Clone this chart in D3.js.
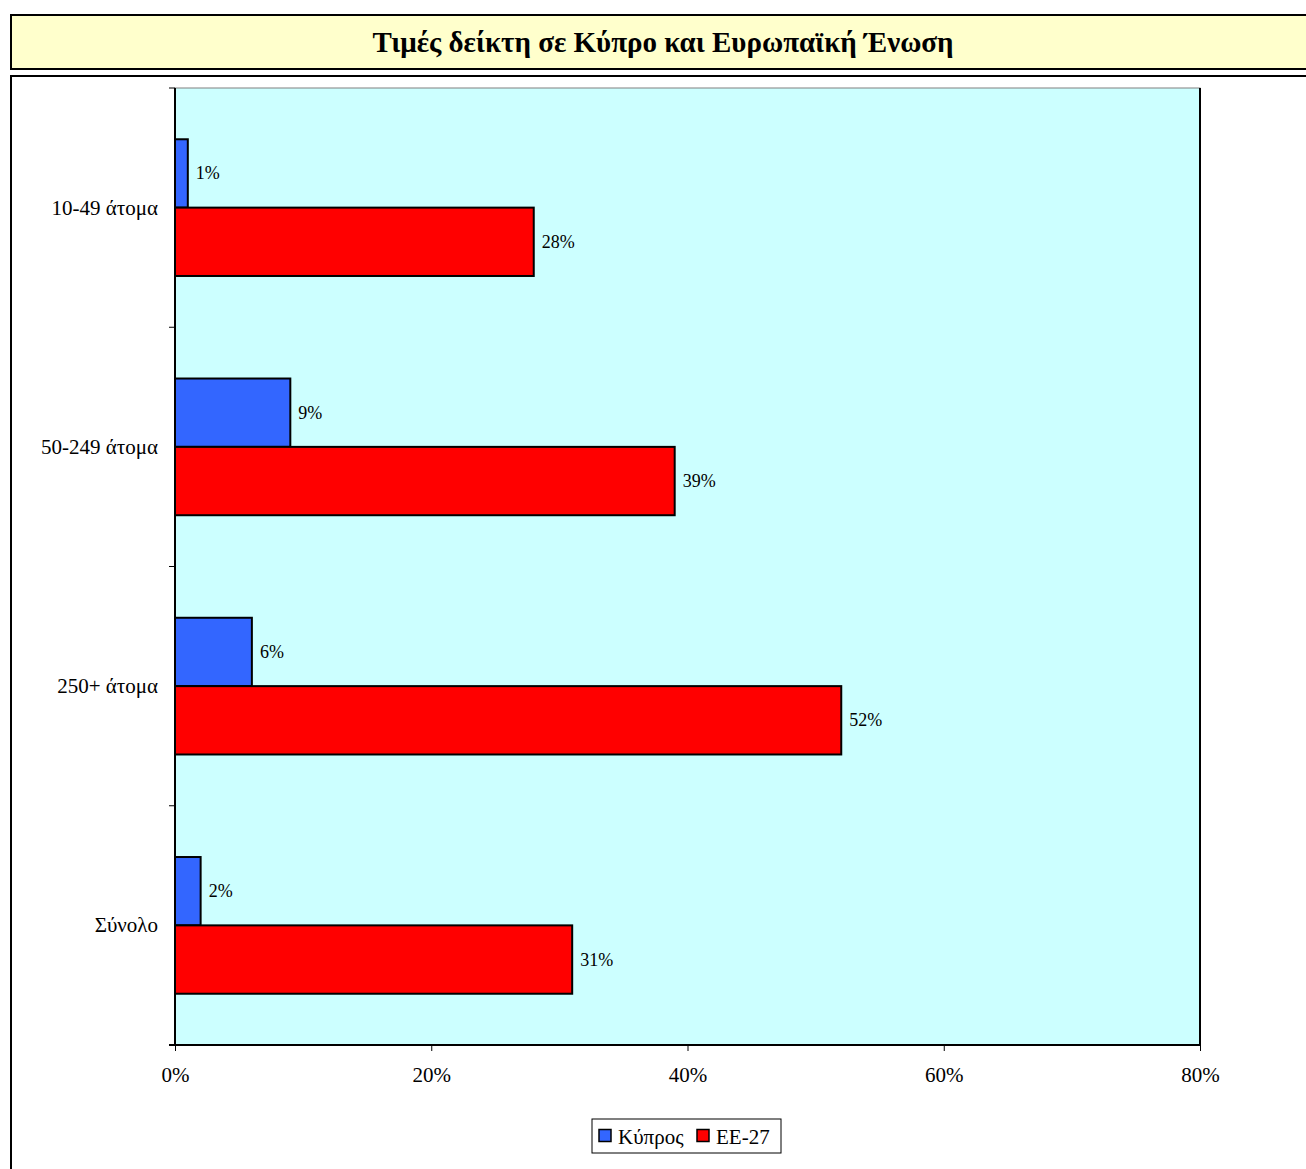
<!DOCTYPE html>
<html>
<head>
<meta charset="utf-8">
<script src="https://cdn.jsdelivr.net/npm/d3@7"></script>
<style>
html,body{margin:0;padding:0;background:#fff;}
svg{display:block;}
</style>
</head>
<body>
<script>
const title = "Τιμές δείκτη σε Κύπρο και Ευρωπαϊκή Ένωση";
const categories = ["10-49 άτομα", "50-249 άτομα", "250+ άτομα", "Σύνολο"];
const seriesNames = ["Κύπρος", "EE-27"];
const cyprus = [1, 9, 6, 2];
const eu27 = [28, 39, 52, 31];
const xTicks = [0, 20, 40, 60, 80];
const colors = ["#3366FF", "#FF0000"];

(function () {
const W = 1306, H = 1169;
const font = "'Liberation Serif', 'Times New Roman', serif";
const svg = d3.select("body").append("svg").attr("width", W).attr("height", H);

// title box
svg.append("rect").attr("x", 11).attr("y", 15).attr("width", 1310).attr("height", 54)
  .attr("fill", "#FFFFCC").attr("stroke", "#000").attr("stroke-width", 2);
svg.append("text").attr("x", 663).attr("y", 52).attr("text-anchor", "middle")
  .attr("font-family", font).attr("font-weight", "bold").attr("font-size", 29)
  .text(title);

// chart box
svg.append("rect").attr("x", 11).attr("y", 76).attr("width", 1310).attr("height", 1110)
  .attr("fill", "#fff").attr("stroke", "#000").attr("stroke-width", 2);

const pL = 175, pR = 1200, pT = 88, pB = 1045;
const x = d3.scaleLinear().domain([0, 80]).range([pL, pR]);
const y = d3.scaleBand().domain(categories).range([pT, pB]).paddingInner(0).paddingOuter(0);

// plot area
svg.append("rect").attr("x", pL).attr("y", pT).attr("width", pR - pL).attr("height", pB - pT)
  .attr("fill", "#CCFFFF").attr("stroke", "#808080").attr("stroke-width", 1);
svg.append("line").attr("x1", pR).attr("x2", pR).attr("y1", pT).attr("y2", pB)
  .attr("stroke", "#000").attr("stroke-width", 2);

const data = categories.map((c, i) => ({cat: c, vals: [cyprus[i], eu27[i]]}));

// bars (gap width 150%)
const bw = y.bandwidth() / 3.5;
const g = svg.append("g");
data.forEach(d => {
  d.vals.forEach((v, j) => {
    const yy = y(d.cat) + 0.75 * bw + j * bw;
    g.append("rect").attr("x", x(0)).attr("y", yy).attr("width", x(v) - x(0)).attr("height", bw)
      .attr("fill", colors[j]).attr("stroke", "#000").attr("stroke-width", 2);
    g.append("text").attr("x", x(v) + 8).attr("y", yy + bw / 2 + 6)
      .attr("font-family", font).attr("font-size", 18).attr("fill", "#000")
      .text(v + "%");
  });
});

// y axis
const yAxis = d3.axisLeft(y).tickSize(0).tickFormat(d => d);
const yg = svg.append("g").attr("transform", `translate(${pL},0)`).call(yAxis);
yg.select(".domain").remove();
yg.selectAll("text").attr("font-family", font).attr("font-size", 21).attr("fill", "#000")
  .attr("x", -17).attr("dy", "0.33em");
const bounds = categories.map(c => y(c)).concat([pB]);
svg.append("g").selectAll("line").data(bounds).join("line")
  .attr("x1", pL - 6).attr("x2", pL).attr("y1", d => d).attr("y2", d => d)
  .attr("stroke", "#000").attr("stroke-width", 1);
svg.append("line").attr("x1", pL).attr("x2", pL).attr("y1", pT).attr("y2", pB + 1)
  .attr("stroke", "#000").attr("stroke-width", 2);

// x axis
const xAxis = d3.axisBottom(x).tickValues(xTicks).tickFormat(d => d + "%").tickSize(6).tickPadding(16);
const xg = svg.append("g").attr("transform", `translate(0,${pB})`).call(xAxis);
xg.select(".domain").remove();
xg.selectAll(".tick line").attr("stroke", "#000");
xg.selectAll("text").attr("font-family", font).attr("font-size", 21).attr("fill", "#000");
svg.append("line").attr("x1", pL - 6).attr("x2", pR).attr("y1", pB).attr("y2", pB)
  .attr("stroke", "#000").attr("stroke-width", 2);

// legend
const lg = svg.append("g").attr("transform", "translate(592,1119)");
lg.append("rect").attr("x", 0).attr("y", 0).attr("width", 189).attr("height", 34)
  .attr("fill", "#fff").attr("stroke", "#000").attr("stroke-width", 1);
const lx = [7, 105];
seriesNames.forEach((s, j) => {
  lg.append("rect").attr("x", lx[j]).attr("y", 10.5).attr("width", 12).attr("height", 12)
    .attr("fill", colors[j]).attr("stroke", "#000").attr("stroke-width", 1.5);
  lg.append("text").attr("x", lx[j] + 19).attr("y", 25)
    .attr("font-family", font).attr("font-size", 21).attr("fill", "#000").text(s);
});
})();
</script>
</body>
</html>
